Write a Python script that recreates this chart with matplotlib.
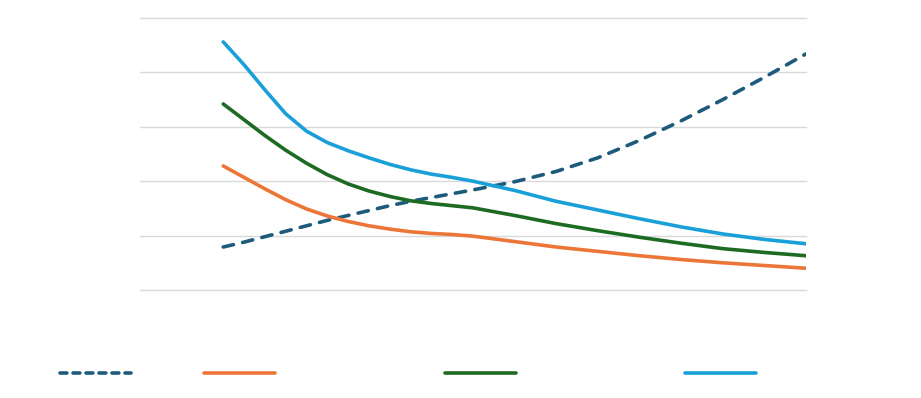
import matplotlib
matplotlib.use("Agg")
import matplotlib.pyplot as plt
from matplotlib.lines import Line2D

# x positions: quarter steps on the steep left part, half steps after
x = [0, 0.25, 0.5, 0.75, 1, 1.25, 1.5, 1.75, 2, 2.25, 2.5, 2.75, 3,
     3.5, 4, 4.5, 5, 5.5, 6, 6.5, 7]

# series values (gridline spacing = 1 unit)
rising = [0.79, 0.88, 0.98, 1.08, 1.18, 1.28, 1.37, 1.46, 1.55, 1.63, 1.70, 1.77, 1.84,
          1.99, 2.18, 2.43, 2.75, 3.11, 3.50, 3.91, 4.34]
orange = [2.28, 2.07, 1.86, 1.66, 1.49, 1.36, 1.26, 1.18, 1.12, 1.07, 1.04, 1.02, 0.99,
          0.89, 0.79, 0.71, 0.63, 0.56, 0.50, 0.45, 0.40]
green = [3.42, 3.13, 2.84, 2.57, 2.33, 2.12, 1.95, 1.82, 1.72, 1.64, 1.59, 1.55, 1.51,
         1.37, 1.22, 1.09, 0.97, 0.86, 0.76, 0.69, 0.63]
blue = [4.56, 4.14, 3.68, 3.24, 2.92, 2.71, 2.56, 2.43, 2.31, 2.21, 2.13, 2.07, 2.00,
        1.83, 1.63, 1.47, 1.31, 1.16, 1.03, 0.93, 0.85]

yticks = [0, 1, 2, 3, 4, 5]

colors = {
    "rising": "#1d5b7c",
    "orange": "#ec7637",
    "green": "#1d6b23",
    "blue": "#1aa0d8",
}

fig = plt.figure(figsize=(9.21, 3.98), dpi=100)
ax = fig.add_axes([140 / 921, 108 / 398, 666 / 921, 272 / 398])

lw = 2.6
ax.plot(x, rising, color=colors["rising"], lw=lw, linestyle=(0, (2.9, 2.6)),
        dash_capstyle="round", solid_capstyle="round", solid_joinstyle="round")
ax.plot(x, orange, color=colors["orange"], lw=lw, solid_capstyle="round",
        solid_joinstyle="round")
ax.plot(x, green, color=colors["green"], lw=lw, solid_capstyle="round",
        solid_joinstyle="round")
ax.plot(x, blue, color=colors["blue"], lw=lw, solid_capstyle="round",
        solid_joinstyle="round")

ax.set_xlim(-1, 7)
ax.set_ylim(0, 5)
ax.set_yticks(yticks)
ax.set_xticks([])
ax.grid(axis="y", color="#d9d9d9", lw=1)
ax.set_axisbelow(True)
for gl in ax.get_ygridlines():
    gl.set_clip_on(False)
ax.tick_params(left=False, labelleft=False)
for s in ax.spines.values():
    s.set_visible(False)

# legend keys (labels are blank in the reference)
legend_x = [60 / 921, 204 / 921, 445 / 921, 685 / 921]
keys = ["rising", "orange", "green", "blue"]
for lx, k in zip(legend_x, keys):
    if k == "rising":
        h = Line2D([], [], color=colors[k], lw=lw, linestyle=(0, (1.9, 1.7)),
                   dash_capstyle="round")
    else:
        h = Line2D([], [], color=colors[k], lw=lw, solid_capstyle="round")
    fig.legend(handles=[h], labels=[""], loc="center left",
               bbox_to_anchor=(lx, 1 - 374 / 398), frameon=False,
               borderpad=0, borderaxespad=0, handlelength=5.1, handletextpad=0)

fig.savefig("out.png", dpi=100)
